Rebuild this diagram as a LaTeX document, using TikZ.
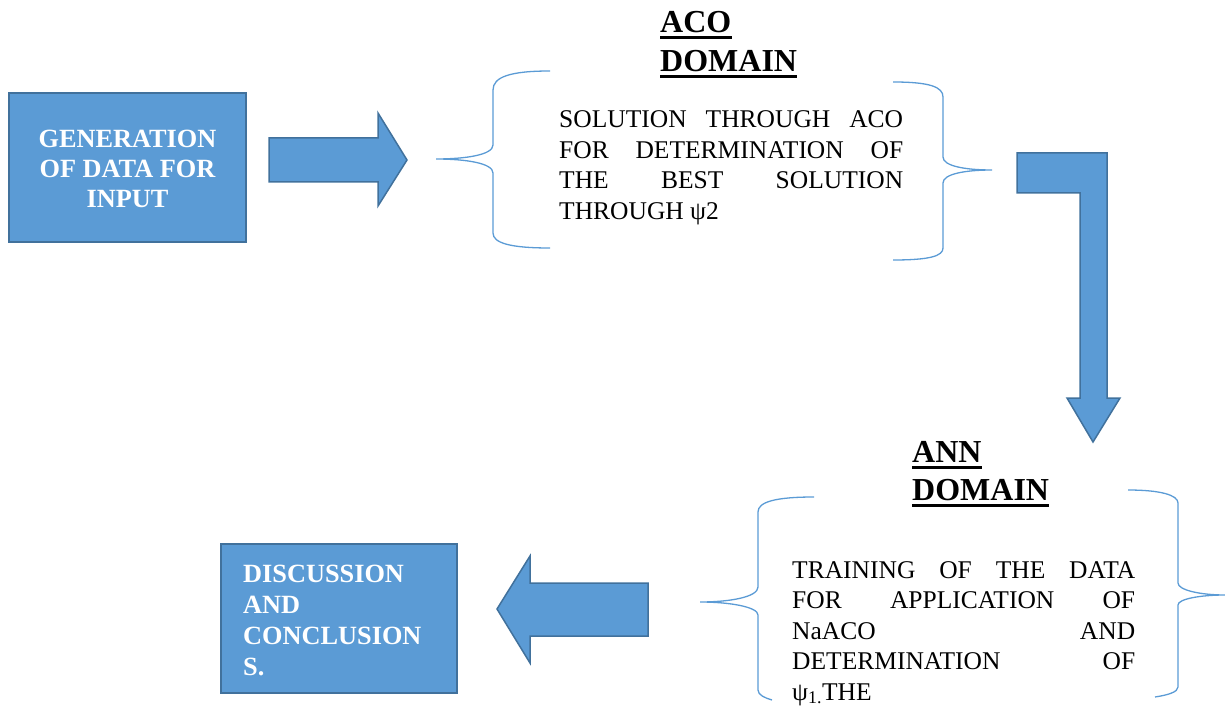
\documentclass[tikz,border=0pt]{standalone}
\usepackage{fontspec}
\setmainfont{Liberation Serif}
\definecolor{boxfill}{HTML}{5B9BD5}
\definecolor{boxline}{HTML}{41719C}
\definecolor{bracecol}{HTML}{5B9BD5}
\newcommand{\bodyfnt}{\fontsize{25.5}{30.5}\selectfont}
\newcommand{\boxfntA}{\fontsize{26.3}{30}\selectfont\bfseries}
\newcommand{\boxfntB}{\fontsize{26.3}{31}\selectfont\bfseries}
\newcommand{\titlefnt}{\fontsize{32}{38}\selectfont\bfseries}
\begin{document}
\begin{tikzpicture}[x=1pt,y=-1pt,
  bluebox/.style={draw=boxline, fill=boxfill, line width=1.5pt, rectangle, inner sep=0pt},
  blockarrow/.style={draw=boxline, fill=boxfill, line width=1.5pt, line join=miter},
  bracepath/.style={draw=bracecol, line width=1.3pt},
  boxtext/.style={text=white, inner sep=0pt},
  bodytext/.style={font=\bodyfnt, inner sep=0pt, anchor=base west},
  titletext/.style={font=\titlefnt, inner sep=0pt, anchor=base west},
  uline/.style={line width=3pt}]
\useasboundingbox (0,0) rectangle (1225,708);

% boxes
\node[bluebox, minimum width=237pt, minimum height=149pt] (gen) at (127.5,167.5) {};
\node[boxtext, font=\boxfntA, anchor=base] (gentxt) at (127.5,148)
  {\begin{tabular}[t]{@{}c@{}}GENERATION\\OF DATA FOR\\INPUT\end{tabular}};

\node[bluebox, minimum width=236pt, minimum height=149pt] (disc) at (339,618.5) {};
\node[boxtext, font=\boxfntB, anchor=base west] (disctxt) at (243,582)
  {\begin{tabular}[t]{@{}l@{}}DISCUSSION\\AND\\CONCLUSION\\S.\end{tabular}};

% block arrows
\draw[blockarrow] (269,138) -- (378,138) -- (378,113) -- (407,160) -- (378,206) -- (378,182) -- (269,182) -- cycle;
\draw[blockarrow] (1017,153) -- (1107,153) -- (1107,398) -- (1120,398) -- (1093,442) -- (1067,398) -- (1080,398) -- (1080,193) -- (1017,193) -- cycle;
\draw[blockarrow] (648,583) -- (530,583) -- (530,556) -- (497,609) -- (530,663) -- (530,636) -- (648,636) -- cycle;

% ACO domain
\node[titletext] (acot1) at (660,33) {ACO};
\node[titletext] (acot2) at (660,72) {DOMAIN};
\draw[uline] ([yshift=-5pt]acot1.base west) -- ([yshift=-5pt]acot1.base east);
\draw[uline] ([yshift=-5pt]acot2.base west) -- ([yshift=-5pt]acot2.base east);

\node[bodytext] (acobody) at (559,128)
  {\begin{tabular}[t]{@{}l@{}}\makebox[344pt][s]{SOLUTION THROUGH ACO}\\
   \makebox[344pt][s]{FOR DETERMINATION OF}\\
   \makebox[344pt][s]{THE BEST SOLUTION}\\
   THROUGH ψ2\end{tabular}};

\draw[bracepath] (550,71) .. controls (510,71) and (493,77) .. (493,90) -- (493,145)
  .. controls (493,155) and (465,159) .. (436,159)
  .. controls (465,159) and (493,163) .. (493,173) -- (493,233)
  .. controls (493,243) and (510,248) .. (550,248);
\draw[bracepath] (893,82) .. controls (930,82) and (943,87) .. (943,97) -- (943,157)
  .. controls (943,166) and (965,170) .. (992,170)
  .. controls (965,170) and (943,174) .. (943,183) -- (943,248)
  .. controls (943,256) and (930,260) .. (893,260);

% ANN domain
\node[titletext] (annt1) at (912,462) {ANN};
\node[titletext] (annt2) at (912,500) {DOMAIN};
\draw[uline] ([yshift=-5pt]annt1.base west) -- ([yshift=-5pt]annt1.base east);
\draw[uline] ([yshift=-5pt]annt2.base west) -- ([yshift=-5pt]annt2.base east);

\node[bodytext] (annbody) at (792,578)
  {\begin{tabular}[t]{@{}l@{}}\makebox[343pt][s]{TRAINING OF THE DATA}\\
   \makebox[343pt][s]{FOR APPLICATION OF}\\
   \makebox[343pt][s]{NaACO AND}\\
   \makebox[343pt][s]{DETERMINATION OF}\\
   ψ\textsubscript{1.}THE\end{tabular}};

\draw[bracepath] (814,497) .. controls (775,497) and (758,502) .. (758,512) -- (758,587)
  .. controls (758,597) and (730,602) .. (700,602)
  .. controls (730,602) and (758,607) .. (758,615) -- (758,690)
  .. controls (758,695) and (765,698) .. (772,700);
\draw[bracepath] (1128,490) .. controls (1160,490) and (1178,495) .. (1178,503) -- (1178,583)
  .. controls (1178,590) and (1200,595) .. (1225,595)
  .. controls (1200,595) and (1178,599) .. (1178,605) -- (1178,687)
  .. controls (1178,692) and (1168,695) .. (1155,697);
\end{tikzpicture}
\end{document}
